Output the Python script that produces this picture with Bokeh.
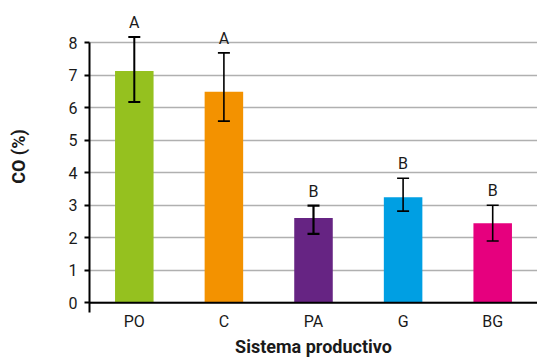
from bokeh.plotting import figure
from bokeh.models import ColumnDataSource, FactorRange, Range1d, FixedTicker, Span
from bokeh.core.properties import value
from bokeh.embed import file_html
from bokeh.resources import INLINE

categories = ["PO", "C", "PA", "G", "BG"]
co_mean = [7.13, 6.49, 2.61, 3.25, 2.45]
err_upper = [8.18, 7.69, 2.99, 3.83, 3.0]
err_lower = [6.18, 5.59, 2.12, 2.82, 1.9]
letters = ["A", "A", "B", "B", "B"]
colors = ["#95C11F", "#F39200", "#662483", "#009FE3", "#E6007E"]
err_widths = [2, 1.6, 2.2, 1.6, 1.6]
y_ticks = [0, 1, 2, 3, 4, 5, 6, 7, 8]

FONT = "Roboto"

src = ColumnDataSource(dict(cat=categories, mean=co_mean, up=err_upper, lo=err_lower,
                            lab=letters, color=colors, ew=err_widths))

p = figure(x_range=FactorRange(factors=categories, range_padding=0),
           y_range=Range1d(-0.3, 9.3),
           frame_width=448, frame_height=312, output_backend="svg", toolbar_location=None,
           min_border_left=89, min_border_right=0, min_border_top=0, min_border_bottom=47)
p.outline_line_color = None
p.background_fill_color = "white"

p.vbar(x="cat", top="mean", bottom=0, width=0.43, fill_color="color", line_color=None, source=src)
p.segment(x0="cat", y0="lo", x1="cat", y1="up", line_color="black", line_width="ew", source=src)
p.scatter(x="cat", y="up", marker="dash", size=12, line_color="black", line_width="ew", source=src)
p.scatter(x="cat", y="lo", marker="dash", size=12, line_color="black", line_width="ew", source=src)
p.text(x="cat", y="up", text="lab", text_align="center", text_baseline="bottom", y_offset=-5,
       text_font=value(FONT), text_font_size="16px", text_color="#1a1a1a", source=src)

p.add_layout(Span(location=0, dimension="width", line_color="black", line_width=2))

p.xgrid.grid_line_color = None
p.ygrid.grid_line_color = "#b0b0b0"
p.ygrid.grid_line_width = 1.6
p.ygrid.ticker = FixedTicker(ticks=y_ticks)

ya = p.yaxis[0]
ya.ticker = FixedTicker(ticks=y_ticks)
ya.bounds = (-0.3, 8)
ya.axis_line_color = "black"
ya.axis_line_width = 2
ya.major_tick_line_color = "black"
ya.major_tick_line_width = 2
ya.major_tick_out = 5
ya.major_tick_in = 0
ya.minor_tick_line_color = None
ya.minor_tick_out = 0
ya.minor_tick_in = 0
ya.major_label_text_font = FONT
ya.major_label_text_font_size = "16px"
ya.major_label_text_color = "#1a1a1a"
ya.major_label_standoff = 7
ya.axis_label = "CO (%)"
ya.axis_label_text_font = FONT
ya.axis_label_text_font_style = "bold"
ya.axis_label_text_font_size = "18px"
ya.axis_label_text_color = "#1a1a1a"
ya.axis_label_standoff = 37

xa = p.xaxis[0]
xa.axis_line_color = None
xa.major_tick_line_color = None
xa.minor_tick_line_color = None
xa.major_tick_out = 0
xa.major_tick_in = 0
xa.minor_tick_out = 0
xa.minor_tick_in = 0
xa.major_label_text_font = FONT
xa.major_label_text_font_size = "16px"
xa.major_label_text_color = "#1a1a1a"
xa.major_label_standoff = -1
xa.axis_label = "Sistema productivo"
xa.axis_label_text_font = FONT
xa.axis_label_text_font_style = "bold"
xa.axis_label_text_font_size = "18px"
xa.axis_label_text_color = "#1a1a1a"
xa.axis_label_standoff = 2

open("out.html", "w").write(file_html(p, INLINE))
